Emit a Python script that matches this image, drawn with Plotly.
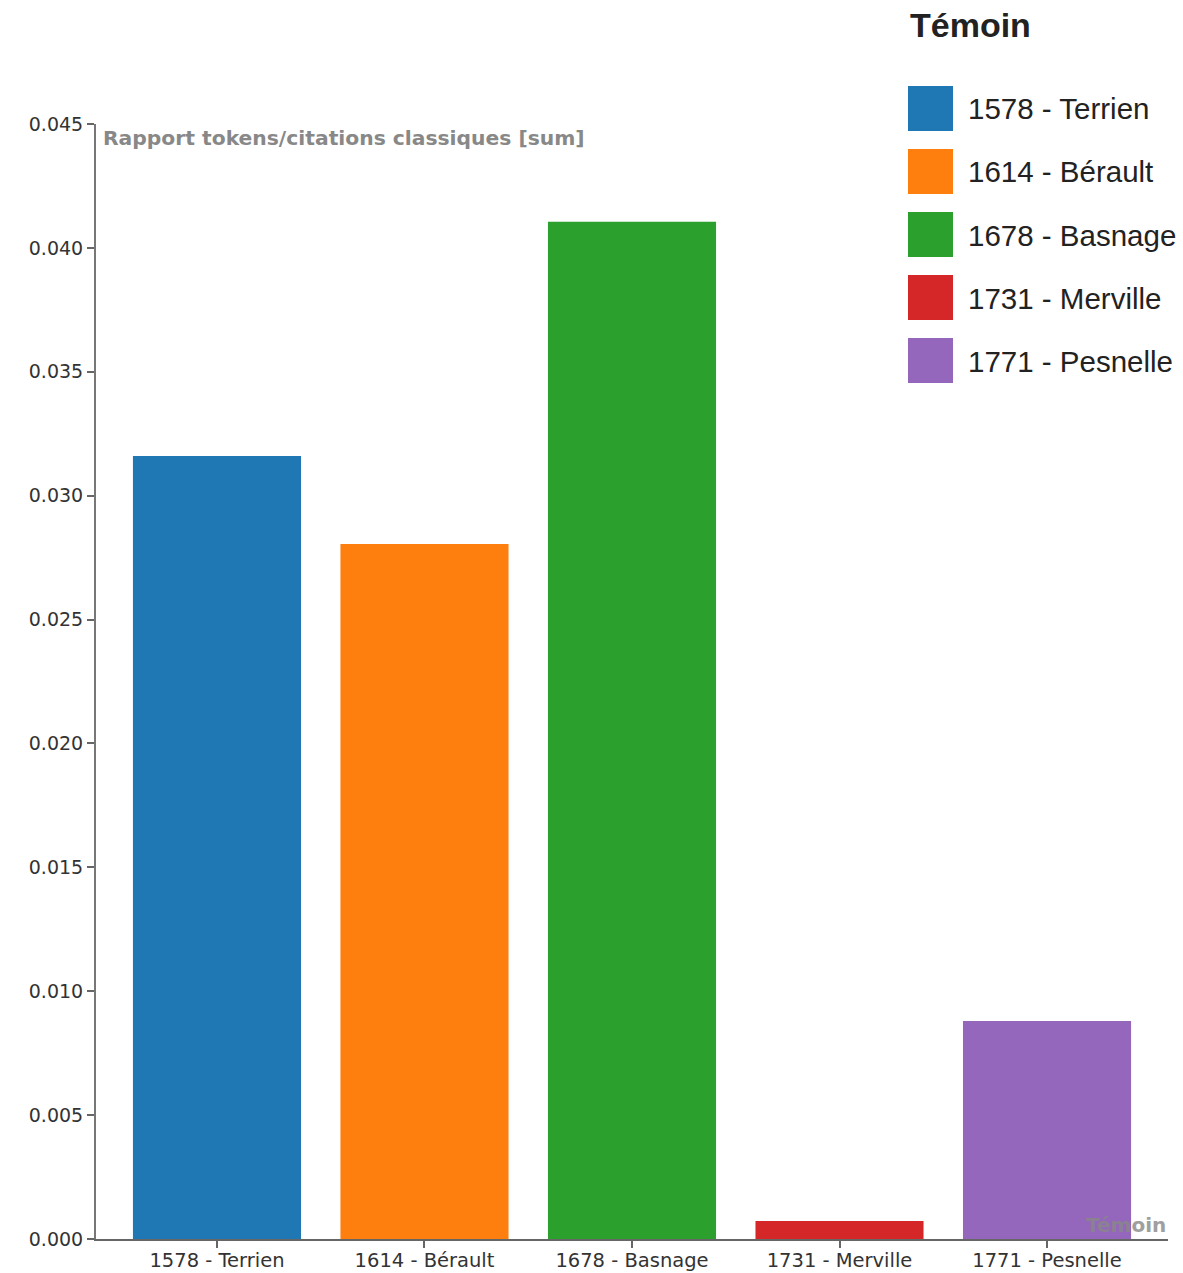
import plotly.graph_objects as go

# ---- data ----
temoins = ["1578 - Terrien", "1614 - Bérault", "1678 - Basnage", "1731 - Merville", "1771 - Pesnelle"]
rapport = [0.0316, 0.02805, 0.04105, 0.00073, 0.0088]
colors = ["#1f77b4", "#ff7f0e", "#2ca02c", "#d62728", "#9467bd"]
y_ticks = [0.000, 0.005, 0.010, 0.015, 0.020, 0.025, 0.030, 0.035, 0.040, 0.045]
y_title = "Rapport tokens/citations classiques [sum]"
x_title = "Témoin"
legend_title = "Témoin"

W, H = 1183, 1273
ML, MR, MT, MB = 96, 15, 124, 34
PW, PH = W - ML - MR, H - MT - MB


def px(x):
    return (x - ML) / PW


def py(y):
    return (H - MB - y) / PH


fig = go.Figure()
fig.add_trace(go.Bar(
    x=temoins, y=rapport, marker=dict(color=colors, line=dict(width=0)),
    showlegend=False,
))

shapes = []
annotations = []
# legend (drawn as swatches + labels)
annotations.append(dict(
    x=px(908), y=py(25), xref="paper", yref="paper", xanchor="left", yanchor="middle",
    text="<b>%s</b>" % legend_title, showarrow=False,
    font=dict(family="Liberation Sans, Arial, sans-serif", size=34, color="#222")))
for i, (name, c) in enumerate(zip(temoins, colors)):
    top = 86 + 63 * i
    shapes.append(dict(type="rect", xref="paper", yref="paper",
                       x0=px(908), x1=px(953), y0=py(top), y1=py(top + 45),
                       fillcolor=c, line=dict(width=0)))
    annotations.append(dict(
        x=px(966), y=py(top + 23), xref="paper", yref="paper", xanchor="left", yanchor="middle",
        text=name, showarrow=False,
        font=dict(family="Liberation Sans, Arial, sans-serif", size=29.5, color="#222")))

# axis titles
annotations.append(dict(
    x=px(101), y=1, xref="paper", yref="paper", xanchor="left", yanchor="top",
    text="<b>%s</b>" % y_title, showarrow=False,
    font=dict(family="DejaVu Sans, sans-serif", size=20.3, color="#888")))
annotations.append(dict(
    x=1, y=0, xref="paper", yref="paper", xanchor="right", yanchor="bottom",
    text="<b>%s</b>" % x_title, showarrow=False, opacity=0.8,
    font=dict(family="DejaVu Sans, sans-serif", size=20, color="#888")))

fig.update_layout(
    width=W, height=H, autosize=False,
    margin=dict(l=ML, r=MR, t=MT, b=MB, pad=0, autoexpand=False),
    paper_bgcolor="white", plot_bgcolor="white",
    bargap=0.19,
    shapes=shapes, annotations=annotations,
    font=dict(family="DejaVu Sans, sans-serif", color="#333"),
)
fig.update_xaxes(
    type="category", range=[-0.583, 4.583], automargin=False,
    showline=True, linecolor="#666", linewidth=2,
    ticks="outside", ticklen=7, tickwidth=1.5, tickcolor="#666",
    ticklabelstandoff=-4,
    tickfont=dict(size=19.5, color="#333", family="DejaVu Sans, sans-serif"),
    showgrid=False, zeroline=False,
)
fig.update_yaxes(
    range=[0, 0.045], tickvals=y_ticks, ticktext=["%.3f" % v for v in y_ticks],
    automargin=False,
    showline=True, linecolor="#777", linewidth=2,
    ticks="outside", ticklen=7, tickwidth=1.5, tickcolor="#666",
    tickfont=dict(size=19, color="#333", family="DejaVu Sans, sans-serif"),
    showgrid=False, zeroline=False,
)

fig.write_html("out.html", config={"displayModeBar": False},
               post_script="document.body.style.margin='0';")
